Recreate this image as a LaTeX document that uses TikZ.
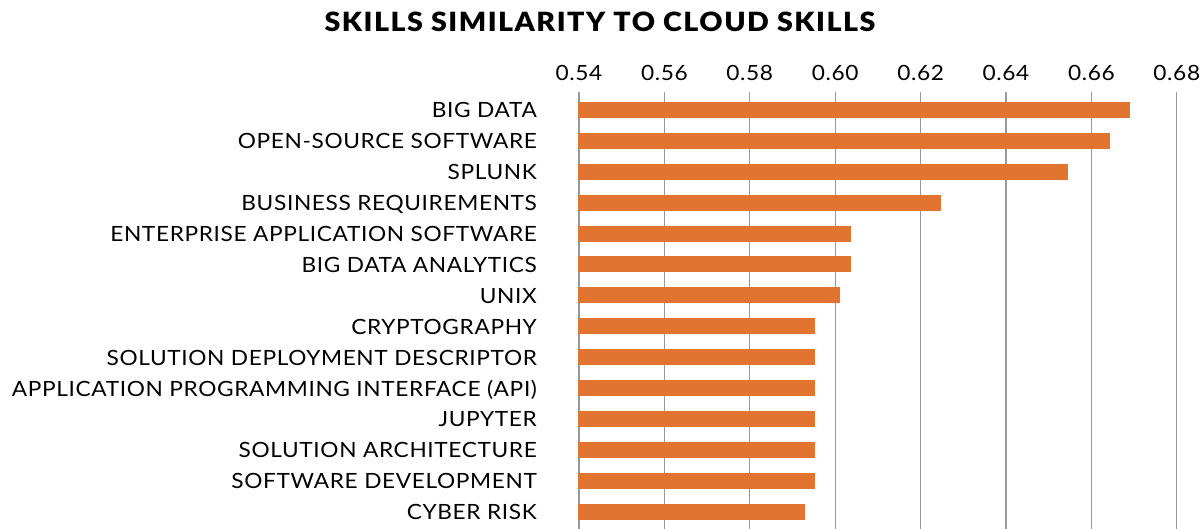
\documentclass[tikz,border=0pt]{standalone}
\usepackage{fontspec}
\setmainfont{Lato}
\newfontfamily\chartfont{Lato}[FakeStretch=1.08,LetterSpace=3]
\newfontfamily\titlefont{Lato Black}[FakeStretch=1.08,LetterSpace=5.6]
\definecolor{barorange}{HTML}{E07430}
\definecolor{gridgray}{HTML}{999999}

\tikzset{
  gridline/.style={draw=gridgray, line width=1.3pt},
  skillbar/.style={fill=barorange},
  ticklabel/.style={anchor=base, inner sep=0pt, font=\chartfont\fontsize{21}{24}\selectfont},
  skilllabel/.style={anchor=base east, inner sep=0pt, font=\chartfont\fontsize{21}{24}\selectfont},
}

\begin{document}
\begin{tikzpicture}[x=1pt,y=-1pt]
  \useasboundingbox (0,0) rectangle (1203,529);
  % title
  \node[anchor=base, inner sep=0pt, font=\titlefont\fontsize{26.5}{30}\selectfont] (title) at (600,32) {SKILLS SIMILARITY TO CLOUD SKILLS};
  % grid lines and axis values
  \foreach \v [count=\i from 0] in {0.54,0.56,0.58,0.60,0.62,0.64,0.66,0.68}{
    \draw[gridline] (579+85.4*\i,92) -- (579+85.4*\i,529);
    \node[ticklabel] (tick\i) at (579+85.4*\i,81) {\v};
  }
  % bars
  \foreach \name/\val [count=\i from 0] in {
      BIG DATA/0.669,
      OPEN-SOURCE SOFTWARE/0.6643,
      SPLUNK/0.6544,
      BUSINESS REQUIREMENTS/0.6247,
      ENTERPRISE APPLICATION SOFTWARE/0.6038,
      BIG DATA ANALYTICS/0.6037,
      UNIX/0.6011,
      CRYPTOGRAPHY/0.5952,
      SOLUTION DEPLOYMENT DESCRIPTOR/0.5952,
      APPLICATION PROGRAMMING INTERFACE (API)/0.5952,
      JUPYTER/0.5952,
      SOLUTION ARCHITECTURE/0.5952,
      SOFTWARE DEVELOPMENT/0.5952,
      CYBER RISK/0.5929}{
    \fill[skillbar] (578,102+30.9*\i) rectangle ({579+(\val-0.54)*4270},118+30.9*\i);
    \node[skilllabel] (skill\i) at (537,118+30.9*\i) {\name};
  }
\end{tikzpicture}
\end{document}
